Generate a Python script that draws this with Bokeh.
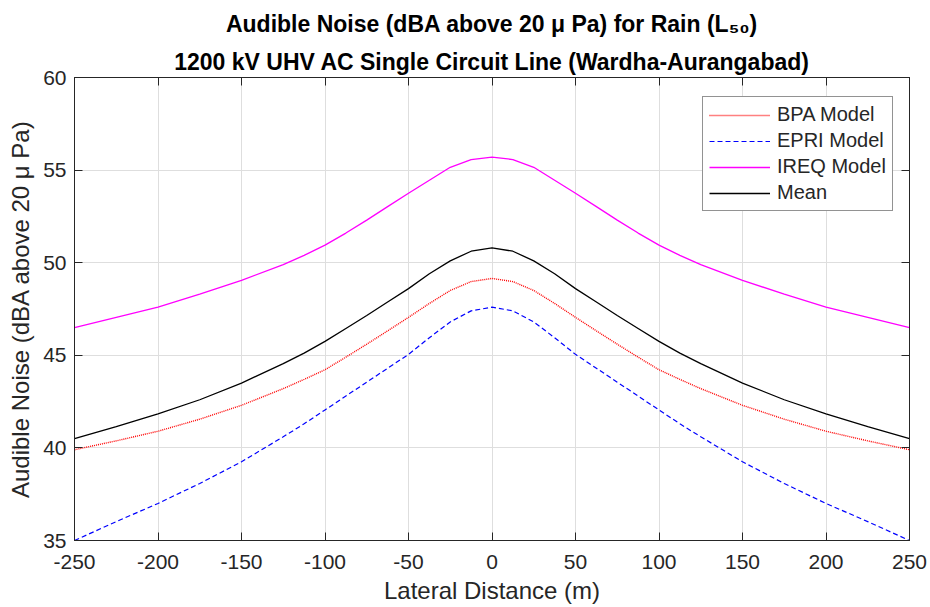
from bokeh.plotting import figure
from bokeh.models import (LinearAxis, FixedTicker, Range1d, Legend, LegendItem, Title)
from bokeh.embed import file_html
from bokeh.resources import INLINE

# Lateral distance (m)
distance = [-250, -225, -200, -175, -150, -125, -112.5, -100, -87.5, -75, -62.5, -50, -37.5,
            -25, -12.5, 0, 12.5, 25, 37.5, 50, 62.5, 75, 87.5, 100, 112.5, 125,
            150, 175, 200, 225, 250]
bpa = [39.9, 40.38, 40.9, 41.55, 42.3, 43.2, 43.7, 44.22, 44.9, 45.6, 46.32, 47.05, 47.8,
       48.5, 48.98, 49.15, 48.98, 48.5, 47.8, 47.05, 46.32, 45.6, 44.9, 44.22, 43.7, 43.2,
       42.3, 41.55, 40.9, 40.38, 39.9]
epri = [35.0, 36.02, 37.0, 38.08, 39.25, 40.6, 41.3, 42.05, 42.8, 43.55, 44.3, 45.05, 45.95,
        46.8, 47.4, 47.6, 47.4, 46.8, 45.95, 45.05, 44.3, 43.55, 42.8, 42.05, 41.3, 40.6,
        39.25, 38.08, 37.0, 36.02, 35.0]
ireq = [46.5, 47.05, 47.6, 48.3, 49.05, 49.9, 50.4, 50.95, 51.6, 52.3, 53.03, 53.75, 54.45,
        55.15, 55.57, 55.7, 55.57, 55.15, 54.45, 53.75, 53.03, 52.3, 51.6, 50.95, 50.4, 49.9,
        49.05, 48.3, 47.6, 47.05, 46.5]
mean = [40.5, 41.15, 41.84, 42.6, 43.5, 44.55, 45.12, 45.75, 46.45, 47.15, 47.88, 48.6, 49.4,
        50.1, 50.62, 50.8, 50.62, 50.1, 49.4, 48.6, 47.88, 47.15, 46.45, 45.75, 45.12, 44.55,
        43.5, 42.6, 41.84, 41.15, 40.5]

x_ticks = [-250, -200, -150, -100, -50, 0, 50, 100, 150, 200, 250]
y_ticks = [35, 40, 45, 50, 55, 60]

title_1 = "Audible Noise (dBA above 20 \u03bc Pa) for Rain (L\u2085\u2080)"
title_2 = "1200 kV UHV AC Single Circuit Line (Wardha-Aurangabad)"

FONT = "Liberation Sans"
AX = "#262626"

p = figure(width=930, height=607, output_backend="svg", toolbar_location=None,
           x_range=Range1d(-250, 250), y_range=Range1d(35, 60),
           min_border_left=74, min_border_right=21, min_border_top=77, min_border_bottom=67,
           title=title_1)
p.outline_line_color = AX
p.outline_line_width = 1
p.background_fill_color = "white"
p.border_fill_color = "white"

p.title.align = "center"
p.title.text_font = FONT
p.title.text_font_size = "23px"
p.title.text_font_style = "bold"
p.title.text_color = "black"
p.title.standoff = 16

for ax, ticks in ((p.xaxis[0], x_ticks), (p.yaxis[0], y_ticks)):
    ax.ticker = FixedTicker(ticks=ticks)
    ax.major_label_overrides = {t: str(t) for t in ticks}
    ax.major_tick_in = 8
    ax.major_tick_out = 0
    ax.minor_tick_in = 0
    ax.minor_tick_out = 0
    ax.axis_line_color = AX
    ax.major_tick_line_color = AX
    ax.major_label_text_font = FONT
    ax.major_label_text_font_size = "21px"
    ax.major_label_text_color = AX
    ax.axis_label_text_font = FONT
    ax.axis_label_text_font_size = "24px"
    ax.axis_label_text_font_style = "normal"
    ax.axis_label_text_color = AX

p.xaxis.axis_label = "Lateral Distance (m)"
p.yaxis.axis_label = "Audible Noise (dBA above 20 \u03bc Pa)"
p.xaxis.major_label_standoff = 14
p.yaxis.major_label_standoff = 8
p.xaxis.axis_label_standoff = 5
p.yaxis.axis_label_standoff = 6

for side, ticks in (("above", x_ticks), ("right", y_ticks)):
    a = LinearAxis(ticker=FixedTicker(ticks=ticks), major_tick_in=8, major_tick_out=0,
                   minor_tick_in=0, minor_tick_out=0, major_label_text_font_size="1px",
                   major_label_text_color=None, major_label_standoff=0,
                   axis_line_color=AX, major_tick_line_color=AX)
    p.add_layout(a, side)

p.add_layout(Title(text=title_2, align="center", text_font=FONT, text_font_size="23px",
                   text_font_style="bold", text_color="black", standoff=5), "above")

p.xgrid.ticker = FixedTicker(ticks=x_ticks)
p.ygrid.ticker = FixedTicker(ticks=y_ticks)
p.grid.grid_line_color = "#dedede"
p.grid.grid_line_width = 1

r_bpa = p.line(distance, bpa, line_color="#ff0000", line_width=1.4, line_dash="1 1")
r_epri = p.line(distance, epri, line_color="#0000ff", line_width=1.2, line_dash="5 3")
r_ireq = p.line(distance, ireq, line_color="#ff00ff", line_width=1.3)
r_mean = p.line(distance, mean, line_color="#000000", line_width=1.3)

legend = Legend(items=[LegendItem(label="BPA Model", renderers=[r_bpa]),
                       LegendItem(label="EPRI Model", renderers=[r_epri]),
                       LegendItem(label="IREQ Model", renderers=[r_ireq]),
                       LegendItem(label="Mean", renderers=[r_mean])],
                location=(628, 329), glyph_width=61, glyph_height=20, label_height=20,
                label_text_font=FONT, label_text_font_size="20px", label_text_color=AX,
                border_line_color=AX, border_line_width=1, padding=6, spacing=3,
                label_standoff=7, margin=0, background_fill_alpha=1)
p.add_layout(legend, "center")

open("out.html", "w").write(file_html(p, INLINE))
